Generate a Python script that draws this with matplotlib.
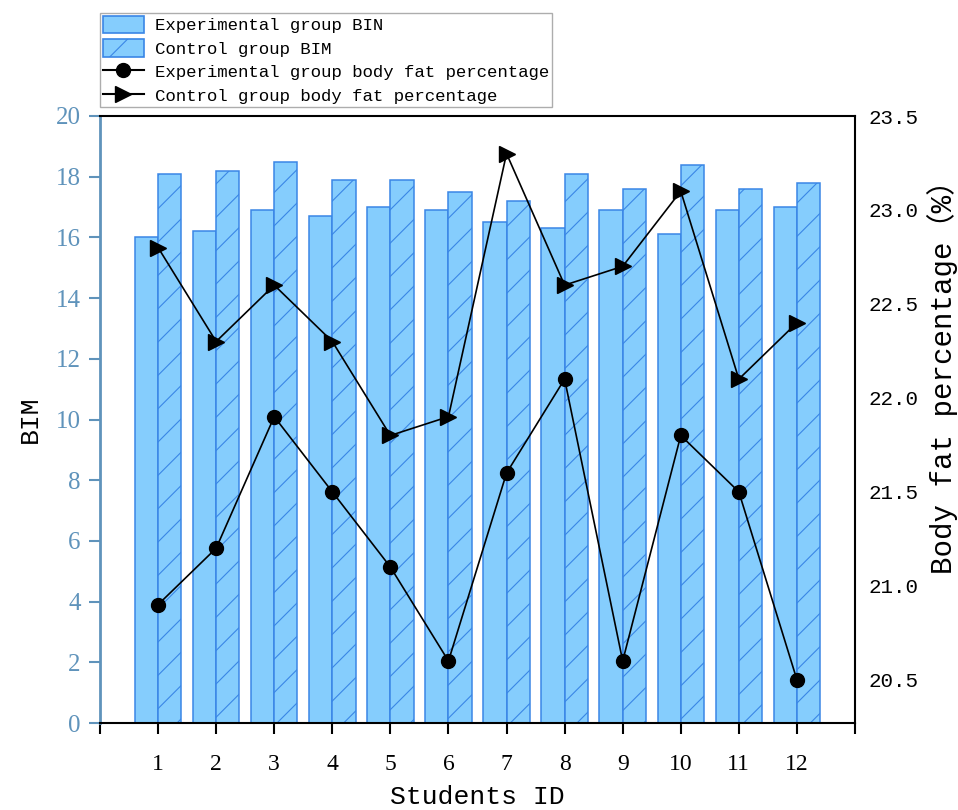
import numpy as np
import matplotlib
matplotlib.use('Agg')
import matplotlib.pyplot as plt
from matplotlib.patches import Patch
from matplotlib.lines import Line2D

students = np.arange(1, 13)
exp_bmi = [16.0, 16.2, 16.9, 16.7, 17.0, 16.9, 16.5, 16.3, 16.9, 16.1, 16.9, 17.0]
ctrl_bmi = [18.1, 18.2, 18.5, 17.9, 17.9, 17.5, 17.2, 18.1, 17.6, 18.4, 17.6, 17.8]
exp_fat = [20.9, 21.2, 21.9, 21.5, 21.1, 20.6, 21.6, 22.1, 20.6, 21.8, 21.5, 20.5]
ctrl_fat = [22.8, 22.3, 22.6, 22.3, 21.8, 21.9, 23.3, 22.6, 22.7, 23.1, 22.1, 22.4]

mono = ['Liberation Mono', 'Noto Sans CJK SC']
serif = 'Liberation Serif'
fill = '#85cdfd'
edge = '#3a86e6'
axis_blue = '#5f93bb'
plt.rcParams['hatch.linewidth'] = 0.8
plt.rcParams['hatch.color'] = edge

W, H = 958, 810
fig = plt.figure(figsize=(W / 100, H / 100), dpi=100)
ax = fig.add_axes([100 / W, 1 - 723 / H, 755 / W, 607 / H])

w = 0.4
ax.bar(students - w / 2, exp_bmi, width=w, color=fill, edgecolor=edge, linewidth=1.1)
ax.bar(students + w / 2, ctrl_bmi, width=w, color=fill, edgecolor=edge, linewidth=1.1, hatch='/')

ax.set_xlim(0, 13)
ax.set_ylim(0, 20)
ax.set_xticks(range(0, 14))
ax.set_xticklabels([''] + [str(s) for s in students] + [''], fontfamily=serif, fontsize=17)
ax.set_yticks(range(0, 21, 2))
ax.set_yticklabels([str(v) for v in range(0, 21, 2)], fontfamily=serif, fontsize=18, color=axis_blue)
ax.tick_params(axis='x', direction='out', length=8, width=1.5, pad=14)
ax.tick_params(axis='y', direction='out', length=8, width=1.5, color=axis_blue, pad=6)
ax.spines['left'].set_color(axis_blue)
ax.spines['left'].set_linewidth(2)
for s in ['top', 'right', 'bottom']:
    ax.spines[s].set_linewidth(1.5)

# axis labels placed by their centres (pixel positions)
ax.set_xlabel('Students ID', fontfamily=mono, fontsize=19, va='center')
ax.xaxis.set_label_coords(0.5, -(797 - 723) / 607)
ax.set_ylabel('BIM', fontfamily=mono, fontsize=19, va='center')
ax.yaxis.set_label_coords(-(100 - 30) / 755, 0.5)

ax2 = ax.twinx()
ax2.plot(students, exp_fat, color='black', linewidth=1.2, marker='o', markersize=10)
ax2.plot(students, ctrl_fat, color='black', linewidth=1.2, marker='>', markersize=11)
ax2.set_ylim(20.27, 23.5)
ax2.set_yticks([20.5, 21.0, 21.5, 22.0, 22.5, 23.0, 23.5])
ax2.set_yticklabels(['20.5', '21.0', '21.5', '22.0', '22.5', '23.0', '23.5'], fontfamily=mono, fontsize=15)
ax2.tick_params(axis='y', length=0, pad=10)
for s in ax2.spines.values():
    s.set_visible(False)
ax2.set_ylabel('Body fat percentage（%）', fontfamily=mono, fontsize=21, va='center', ha='center',
               rotation_mode='anchor')
ax2.yaxis.set_label_coords(1 + (943 - 855) / 755, (723 - 370) / 607)

handles = [
    Patch(facecolor=fill, edgecolor=edge, linewidth=1.2, label='Experimental group BIN'),
    Patch(facecolor=fill, edgecolor=edge, linewidth=1.2, hatch='/', label='Control group BIM'),
    Line2D([], [], color='black', marker='o', markersize=10, label='Experimental group body fat percentage'),
    Line2D([], [], color='black', marker='>', markersize=11, label='Control group body fat percentage'),
]
fig.legend(handles=handles, loc='upper left', bbox_to_anchor=(100 / W, 1 - 13 / H),
           prop={'family': mono, 'size': 12.5}, frameon=True, fancybox=False, edgecolor='#999999',
           borderaxespad=0, borderpad=0.15, labelspacing=0.33, handlelength=2.4, handleheight=1.2,
           handletextpad=0.6)

fig.savefig('out.png', dpi=100)
